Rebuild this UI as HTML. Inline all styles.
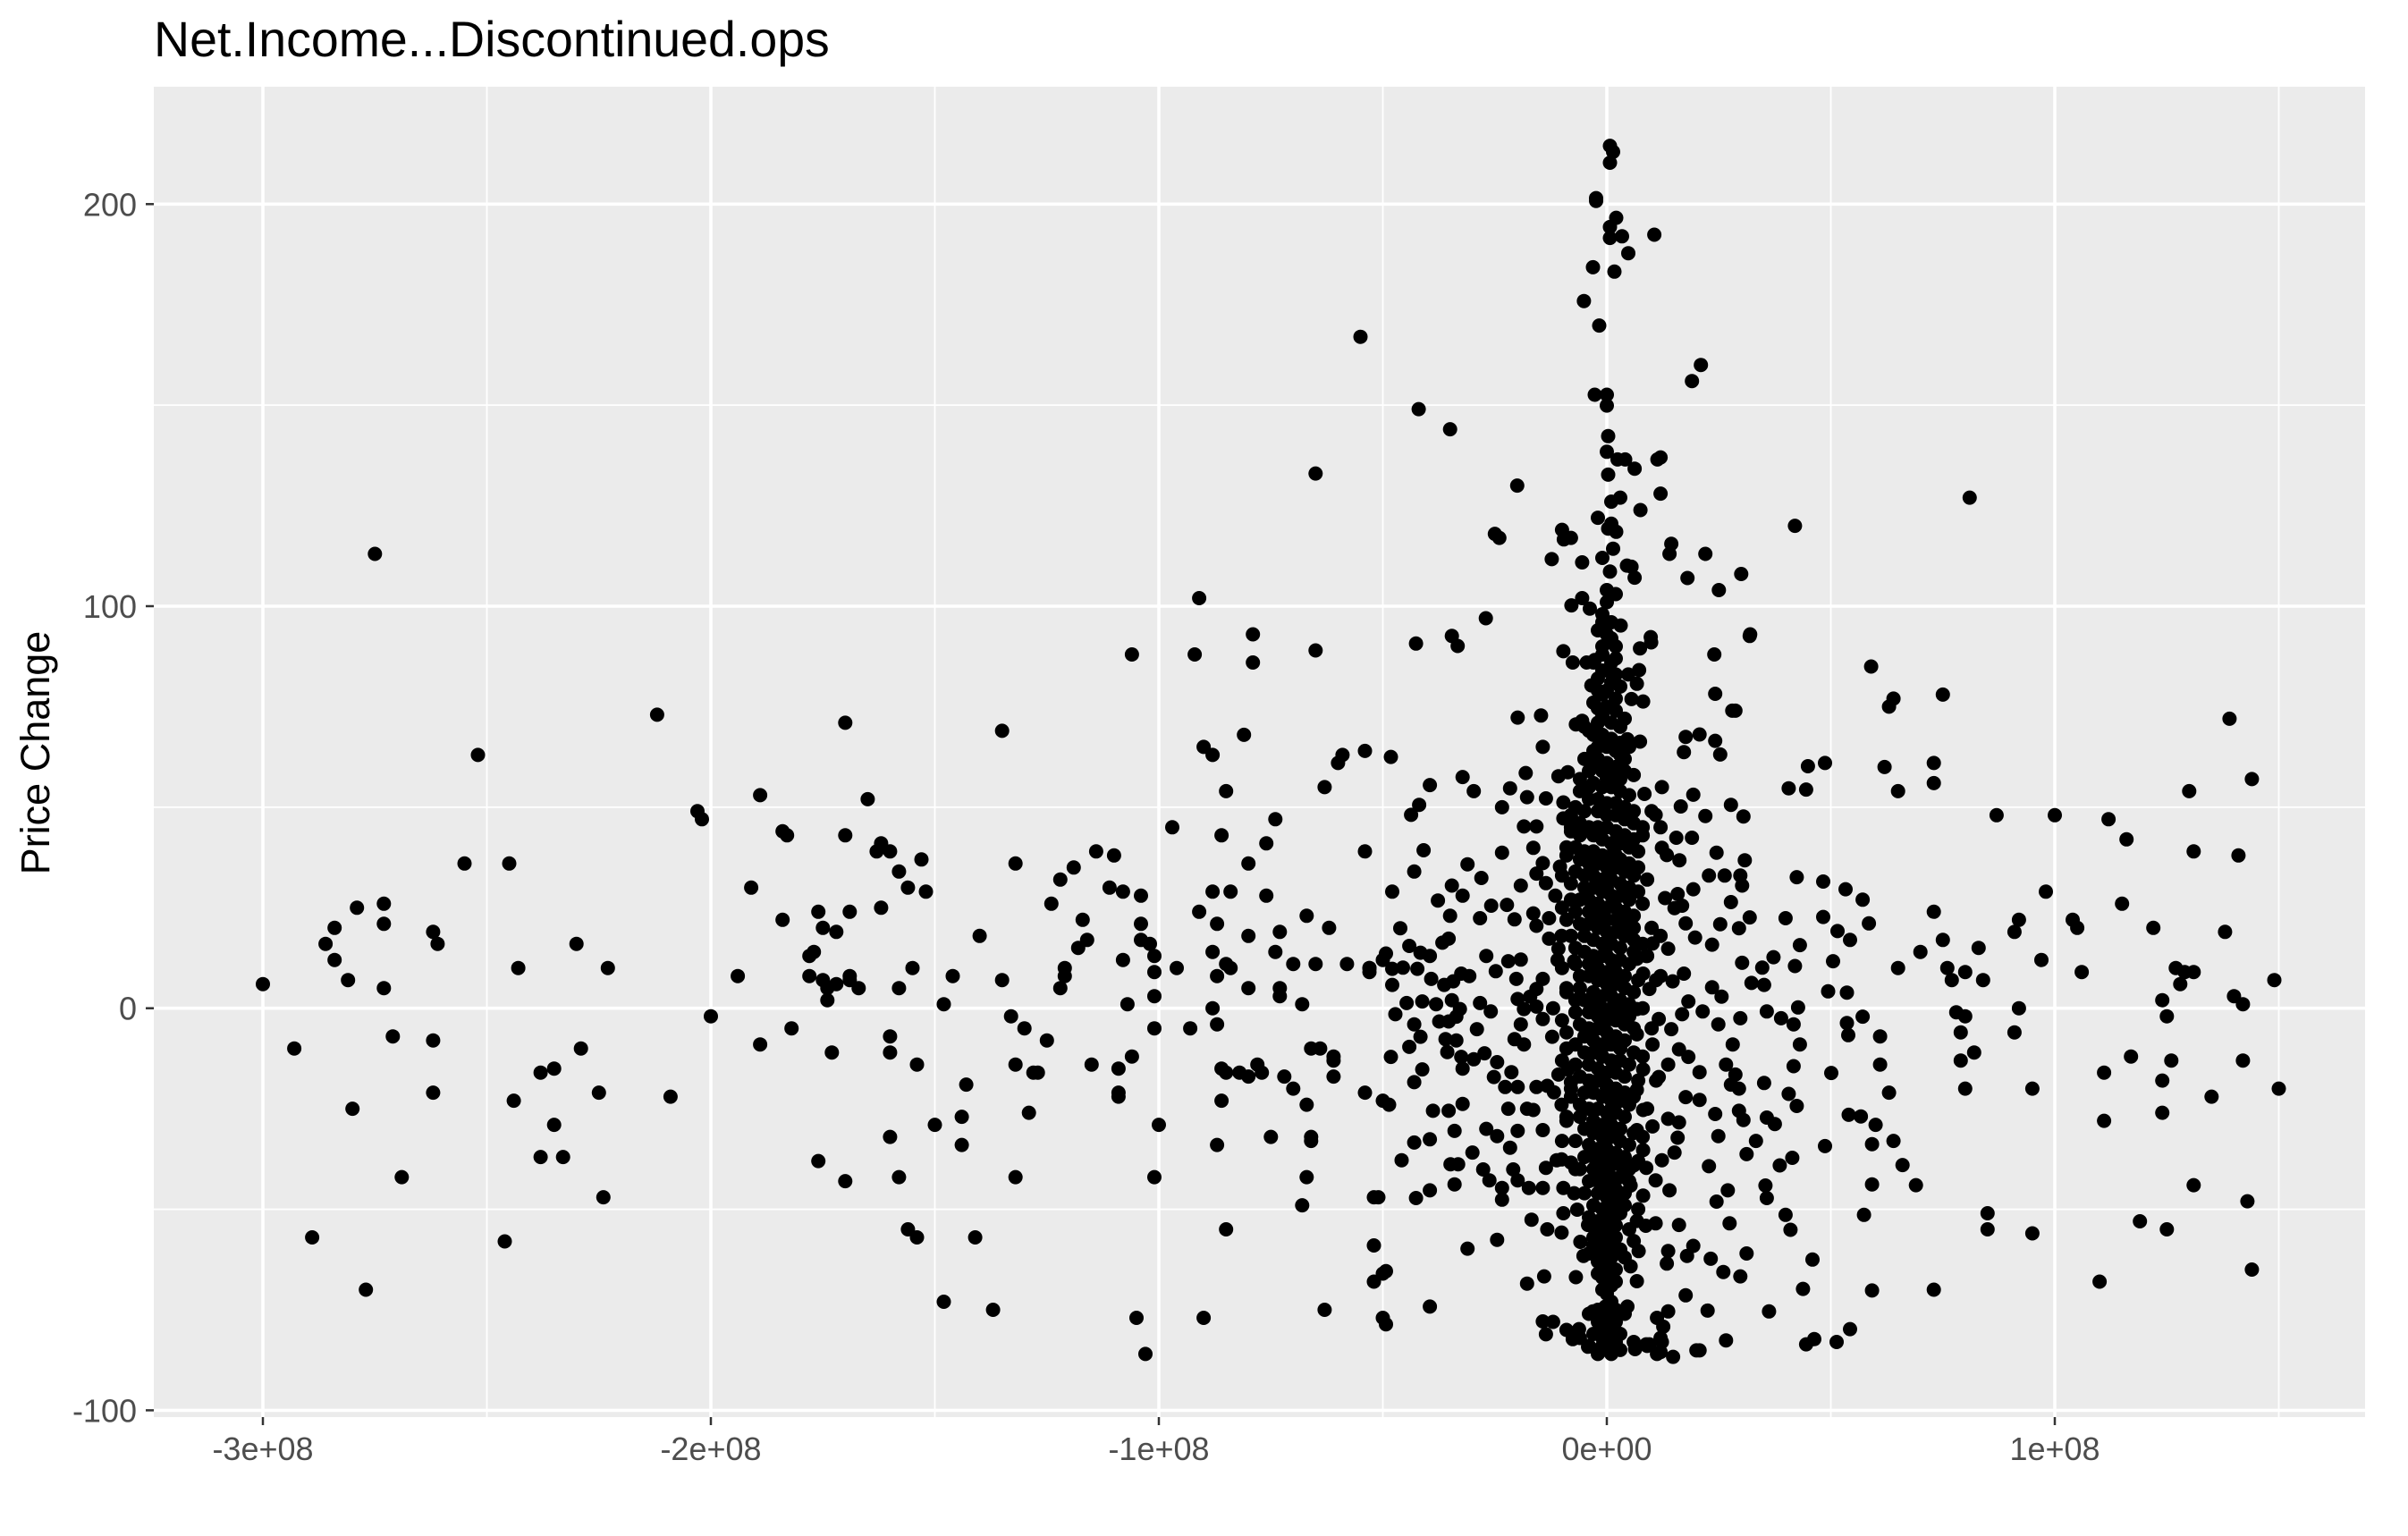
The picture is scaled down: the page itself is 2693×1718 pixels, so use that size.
<!DOCTYPE html>
<html><head><meta charset="utf-8"><style>
html,body{margin:0;padding:0;background:#fff}
svg{display:block}
text{font-family:"Liberation Sans",Arial,sans-serif}
</style></head><body>
<svg id="chart" width="2693" height="1718" viewBox="0 0 2693 1718" xmlns="http://www.w3.org/2000/svg">
<text x="172" y="63" font-size="55.5" fill="#000">Net.Income...Discontinued.ops</text>
<rect x="172" y="97" width="2473" height="1488" fill="#ebebeb"/>
<g id="grid"></g>
<g id="pts"></g>
<g id="axes"></g>
<text transform="translate(55,842) rotate(-90)" text-anchor="middle" font-size="45" fill="#000">Price Change</text>
</svg>
<script>
// x values in millions (1e6), y = price change
const xTicks = [-300, -200, -100, 0, 100];
const xTickLabels = ["-3e+08", "-2e+08", "-1e+08", "0e+00", "1e+08"];
const xMinor = [-250, -150, -50, 50, 150];
const yTicks = [-100, 0, 100, 200];
const yTickLabels = ["-100", "0", "100", "200"];
const yMinor = [-50, 50, 150];

const farLeft = [[-300,6],[-293,-10],[-289,-57],[-286,16],[-284,20],[-284,12],[-281,7],[-280,-25],[-279,25],[-277,-70],[-275,113],[-273,26],[-273,21],[-273,5],[-271,-7],[-269,-42],[-262,-21],[-262,19],[-262,-8],[-261,16],[-255,36],[-252,63],[-246,-58],[-245,36],[-244,-23],[-243,10],[-238,-16],[-238,-37],[-235,-29],[-235,-15],[-233,-37],[-230,16],[-229,-10],[-225,-21],[-224,-47],[-223,10],[-212,73],[-209,-22],[-203,49],[-202,47],[-200,-2],[-194,8],[-191,30],[-189,-9],[-189,53],[-184,44],[-183,43],[-184,22],[-182,-5],[-178,8],[-178,13],[-177,14],[-176,24],[-176,-38],[-175,7],[-175,20],[-174,2],[-174,5],[-173,-11],[-172,19],[-172,6],[-170,43],[-170,71],[-170,-43],[-169,24],[-169,8],[-169,7],[-167,5],[-165,52],[-163,39],[-162,25],[-162,41],[-160,39],[-160,-7],[-160,-11],[-160,-32],[-158,34],[-158,5],[-158,-42],[-156,30],[-156,-55],[-155,10],[-154,-57],[-154,-14],[-153,37],[-152,29],[-150,-29],[-148,-73],[-148,1],[-146,8],[-144,-34],[-144,-27],[-143,-19],[-141,-57],[-140,18],[-137,-75],[-135,7],[-135,69],[-133,-2],[-132,36],[-132,-42],[-132,-14],[-130,-5],[-129,-26],[-128,-16],[-127,-16],[-125,-8],[-124,26],[-122,32],[-122,5],[-121,8],[-121,10],[-119,35],[-118,15],[-117,22],[-116,17],[-115,-14],[-114,39],[-111,30],[-110,38],[-109,-21],[-109,-15],[-109,-22],[-108,12],[-108,29],[-107,1],[-106,-12],[-106,88],[-105,-77],[-104,21],[-104,17],[-104,28],[-103,-86],[-102,16],[-101,-42],[-101,13],[-101,9],[-101,-5],[-101,3],[-100,-29],[-97,45],[-96,10],[-93,-5],[-92,88],[-91,24],[-91,102],[-90,-77],[-90,65],[-88,29],[-88,14],[-88,63],[-88,0],[-87,21],[-87,-4],[-87,-34],[-87,8],[-86,-15],[-86,43],[-86,-23],[-85,54],[-85,11],[-85,-16],[-85,-55],[-84,29],[-84,10],[-82,-16],[-81,68],[-80,5],[-80,36],[-80,-17],[-80,18],[-79,93],[-79,86],[-78,-14],[-77,-16],[-76,41],[-76,28],[-75,-32],[-74,14],[-74,47],[-73,3],[-73,5],[-73,19],[-72,-17],[-70,11],[-70,-20],[-68,1],[-68,-49],[-67,-24],[-67,-42],[-67,23],[-66,-32],[-66,-10],[-66,-33],[-65,89],[-65,11],[-65,133],[-64,-10],[-63,-75],[-63,55],[-62,20],[-61,-12],[-61,-17],[-61,-13],[-60,61],[-59,63],[-58,11],[-55,167],[-54,39],[-54,64],[-54,-21],[-53,10],[-53,9],[-53,10],[-52,-47],[-52,-59],[-52,-68],[-51,-47],[-50,-23],[-50,-77],[-50,-66],[-50,12],[-42,149],[-35,144],[-27,97],[-25,118],[-24,117],[-20,130],[-10,119],[-8,117]];

const farRight = [[59,85],[62,60],[65,54],[64,77],[63,75],[65,10],[70,14],[73,24],[75,17],[76,10],[77,7],[78,-1],[79,-13],[80,9],[81,127],[83,15],[84,7],[85,-51],[85,-55],[75,78],[73,61],[73,56],[79,-6],[80,-20],[80,-2],[82,-11],[73,-70],[69,-44],[66,-39],[64,-33],[63,-21],[60,-29],[61,-7],[61,-14],[87,48],[91,19],[91,-6],[92,0],[92,22],[95,-56],[95,-20],[97,12],[98,29],[100,48],[104,22],[105,20],[106,9],[110,-68],[111,-16],[111,-28],[112,47],[115,26],[116,42],[117,-12],[119,-53],[122,20],[124,-18],[124,-26],[124,2],[125,-55],[125,-2],[126,-13],[127,10],[128,6],[129,9],[131,-44],[131,9],[130,54],[131,39],[135,-22],[138,19],[139,72],[140,3],[141,38],[142,1],[142,-13],[143,-48],[144,57],[144,-65],[149,7],[150,-20],[12,137],[12,128],[19,156],[21,160],[22,113],[30,108],[42,120],[32,93],[28,74],[24,88],[18,107],[14,113],[25,104]];

const spike = [[0.7,214.5],[1.4,213],[0.7,210.3],[-2.4,201.5],[-2.4,200.8],[2.1,196.6],[0.7,194.3],[0.7,191.6],[10.6,192.4],[4.8,187.8],[1.7,183.2],[-5.1,175.9],[-1.7,169.8],[-3.1,184.3],[3.4,192],[0,152.6],[0,149.9],[-2.7,152.6],[0.3,142.3],[0,138.4],[2.4,136.5],[4.1,136.5],[0.3,132.7],[7.5,123.9],[6.2,134.2],[11.3,136.5],[1,120.5],[0.3,119.3],[2.1,118.5],[1.4,114.3],[4.5,110.1],[5.5,109.8],[6.2,107.1],[-5.5,110.9],[0.7,108.6],[0,104],[14.4,115.5],[-5.5,102],[-3.8,99.4],[9.9,91],[3.1,95.2],[-7.9,100.2],[-12.3,111.7],[-9.6,116.6],[-4.5,86],[4.8,83],[7.2,84.1],[5.5,76.9],[-2,74.6],[-5.5,71.5],[-2,122],[3,127],[1,126],[-1,112],[2,103],[-1,96],[1,91]];

const core = [[-1,98],[1,96],[0,101],[-2,94],[1,92],[2,90],[-1,88],[2,87],[-3,86],[0,84],[-2,82],[1,81],[3,80],[-1,78],[-3,76],[0,75],[2,74],[4,72],[-2,71],[-4,69],[-1,68],[1,67],[3,66],[5,65],[-3,64],[-5,62],[-2,62],[0,61],[2,60],[4,59],[6,58],[-6,57],[-3,56],[-1,55],[1,55],[3,54],[5,53],[-4,52],[-7,50],[-5,49],[-2,49],[0,48],[2,48],[4,47],[6,46],[8,45],[-8,44],[-6,43],[-3,43],[-1,42],[1,41],[3,41],[5,40],[7,39],[-9,38],[-6,37],[-4,36],[-2,36],[0,35],[2,35],[4,34],[6,33],[9,32],[-8,31],[-5,30],[-3,30],[-1,29],[1,28],[3,28],[5,27],[8,26],[-10,25],[-7,24],[-4,24],[-2,23],[0,22],[2,22],[4,21],[6,20],[10,20],[-8,18],[-5,18],[-3,17],[-1,16],[1,16],[3,15],[6,14],[9,13],[-11,12],[-7,11],[-4,11],[-2,10],[0,9],[2,9],[4,8],[7,7],[11,7],[-9,5],[-6,5],[-3,4],[-1,3],[1,3],[3,2],[5,1],[8,0],[-12,0],[-7,-1],[-4,-1],[-2,-2],[0,-3],[2,-3],[4,-4],[6,-5],[10,-5],[-9,-6],[-5,-7],[-3,-8],[-1,-9],[1,-9],[3,-10],[6,-11],[8,-12],[-10,-13],[-7,-14],[-4,-14],[-2,-15],[0,-16],[2,-16],[4,-17],[7,-18],[11,-18],[-8,-20],[-5,-21],[-3,-21],[-1,-22],[1,-23],[3,-23],[5,-24],[9,-25],[-9,-27],[-6,-27],[-3,-28],[-1,-29],[1,-29],[3,-30],[6,-31],[8,-32],[-7,-33],[-4,-34],[-2,-35],[0,-35],[2,-36],[4,-37],[7,-38],[-6,-40],[-3,-40],[-1,-41],[1,-42],[3,-42],[5,-43],[-5,-46],[-2,-46],[0,-47],[2,-48],[4,-49],[7,-50],[-4,-52],[-2,-53],[0,-53],[2,-54],[5,-55],[-3,-57],[-1,-58],[1,-59],[3,-60],[-4,-61],[-2,-63],[0,-64],[2,-65],[4,-62],[-1,-67],[1,-69],[0,-71],[-4,-76],[-2,-75],[0,-76],[2,-75],[4,-76],[-1,-79],[1,-80],[0,-82],[-3,-81],[3,-81],[0,-85],[-1,-84],[1,-86],[-6,-82],[6,-83],[9,-84],[-9,-80],[12,-82],[-12,-78],[-8,45],[-9,40],[-10,33],[-8,27],[-9,22],[-10,10],[-9,4],[-10,-3],[-9,-10],[-8,-22],[-9,-28],[-10,-33],[-7,-40],[10,49],[12,45],[8,43],[-8,48],[6.7,12.3],[8.1,8.6],[8.8,13],[9.5,4.8],[6.7,-0.2],[6.7,-6.5],[10.2,-9],[8.1,-15.2],[6.7,-20.3],[8.1,-25.3],[6.7,-30.3],[8.1,-35.3],[6,-39.1],[8.8,-39.7],[5.3,-44.1],[8.1,-46.6],[6.7,-52.9],[6,-57.9],[7.1,-60.4],[5.3,-64.2],[6.7,-67.9],[-5,70],[-3,60],[3,63],[0,57],[-2,45],[2,38],[0,30],[-1,20],[0,13],[1,6],[-1,0],[0,-6],[-1,-12],[0,-19],[1,-25],[-1,-32],[0,-38],[-1,-44],[1,-50],[0,-56],[-1,-61]];

const core2 = [[0,93],[-1,90],[1,86],[-1,84],[2,83],[0,79],[-2,79],[2,77],[-1,73],[1,71],[3,70],[-3,68],[0,65],[2,64],[-2,65],[4,62],[-4,59],[-1,59],[1,58],[3,57],[-6,54],[-4,55],[-2,52],[0,51],[2,51],[4,50],[6,49],[-6,46],[-4,45],[0,45],[2,44],[4,43],[6,42],[-7,40],[-5,39],[-3,39],[-1,38],[1,38],[3,37],[5,36],[7,35],[-7,34],[-5,33],[-3,33],[-1,32],[1,32],[3,31],[5,30],[7,29],[-6,27],[-4,27],[-2,26],[0,25],[2,25],[4,24],[6,23],[-6,21],[-4,21],[-2,20],[0,19],[2,19],[4,18],[6,17],[8,16],[-7,15],[-5,14],[-3,13],[-1,13],[1,12],[3,12],[5,11],[-6,8],[-4,8],[-2,7],[0,6],[2,6],[4,5],[6,4],[-7,2],[-5,2],[-3,1],[-1,-4],[1,0],[3,-1],[5,-2],[-6,-4],[-4,-5],[-2,-5],[0,-9],[2,-7],[4,-8],[-7,-9],[-5,-11],[-3,-11],[-1,-12],[1,-13],[3,-13],[5,-14],[-6,-17],[-4,-18],[-2,-18],[0,-20],[2,-20],[4,-21],[6,-22],[-6,-24],[-4,-25],[-2,-25],[0,-26],[2,-26],[4,-27],[-5,-30],[-3,-31],[-1,-31],[1,-32],[3,-33],[5,-34],[-5,-37],[-3,-37],[-1,-38],[1,-39],[3,-39],[5,-40],[-4,-43],[-2,-43],[0,-44],[2,-45],[4,-46],[-3,-49],[-1,-50],[1,-51],[3,-51],[-2,-55],[0,-55],[2,-57],[-3,-59],[-1,-60],[1,-62],[-2,-66],[0,-67],[2,-68],[-1,-70],[1,-73],[-2,-78],[0,-79],[2,-78],[-1,-82],[2,-83],[-2,-86],[3,-85],[-4,-84]];

const ring = [[-42.6,90.7],[-34.6,92.6],[-33.3,90.1],[-9.7,88.8],[-7.6,86],[-2.7,86.6],[7.4,89.5],[9.8,92.3],[31.9,92.6],[6.7,80.7],[8.1,76.3],[-3.45,80.3],[24.2,78.2],[28.7,74],[-19.9,72.3],[-14.7,72.8],[-6.9,70.6],[-14.3,65],[-48.2,62.5],[4.6,66.9],[7.4,66.3],[17.6,67.5],[20.7,68.1],[24.2,66.5],[17.2,63.7],[25.3,63.1],[44.9,60.2],[48.7,61],[40.6,54.7],[44.5,54.4],[-32.2,57.5],[-29.7,54],[-39.5,55.5],[-18.1,58.5],[-21.6,54.7],[-17.8,52.5],[-10.8,57.7],[-8.7,58.7],[-13.6,52.2],[-9.7,51.2],[-9.7,47.2],[-23.4,50],[-41.9,50.6],[-43.7,48.1],[-18.5,45.2],[-15.7,45.2],[-23.4,38.7],[-40.9,39.3],[-43,34],[-31.1,35.8],[-28,32.4],[-34.6,30.5],[-32.2,28],[-37.7,26.8],[-47.9,29],[-19.2,30.5],[-10.45,35.2],[12.3,55],[8.4,53.3],[10.9,48.1],[16.5,50.2],[19.3,53.1],[27.7,50.6],[30.5,47.7],[22,47.8],[15.5,42.4],[19,42.4],[24.5,38.7],[30.8,36.8],[22.8,33],[26.3,33],[29.8,33],[30.2,30.5],[42.4,32.6],[48.3,31.5],[53.3,29.6],[57.1,27],[19.3,29.6],[15.8,28.4],[27.7,26.4],[31.9,22.6],[25.3,20.9],[29.5,19.9],[17.6,21.1],[19.7,17.6],[23.5,15.8],[39.9,22.4],[48.3,22.7],[51.5,19.2],[54.3,17],[58.5,21.1],[43.1,15.7],[37.2,12.7],[34.7,10.1],[42,10.5],[50.5,11.7],[30.2,11.3],[32.3,6.3],[35.1,5.8],[23.5,5.2],[25.6,2.9],[49.4,4.2],[53.6,3.9],[35.7,-0.8],[38.9,-2.5],[41.7,-4],[42.7,0.2],[57.1,-2.1],[29.8,-2.5],[24.9,-4],[28.1,-9],[21.4,-0.8],[20.7,-15.9],[53.6,-3.7],[53.9,-6.7],[43.1,-9],[41.7,-14.4],[42.4,-24.3],[26.6,-14],[28.7,-16.5],[27.7,-19],[29.5,-20],[35.1,-18.6],[40.6,-21.3],[50.1,-16.1],[24.2,-26.3],[29.5,-25.5],[30.5,-27.8],[35.7,-27.2],[37.5,-28.8],[54,-26.5],[56.7,-26.9],[59.2,-33.8],[24.9,-31.8],[33.3,-33],[31.2,-36.3],[48.7,-34.3],[22.8,-39.3],[38.6,-39.1],[41.4,-37.2],[35.4,-44.1],[35.7,-47.2],[27,-45.3],[24.5,-48.1],[59.2,-43.8],[39.9,-51.4],[41,-55.1],[57.4,-51.4],[27.4,-53.5],[31.2,-61],[29.8,-66.7],[26,-65.6],[23.2,-62.3],[45.9,-62.5],[43.8,-69.8],[59.2,-70.2],[36.2,-75.4],[22.5,-75.2],[26.6,-82.6],[20.7,-85.1],[44.5,-83.6],[46.3,-82.3],[51.3,-83],[54.3,-79.8],[17.6,-71.4],[19.3,-59.1],[17.9,-61.6],[13.7,-60.4],[13.4,-63.5],[16.1,-53.9],[10.9,-53.5],[8.7,-54.1],[13.7,-75.4],[12.6,-79.2],[11.2,-77],[9.5,-83.6],[11.2,-86],[14.8,-86.7],[6.3,-84.8],[20,-85.1],[16.1,-28.4],[13.7,-27.5],[10.2,-29.4],[15.8,-32.2],[15.1,-35.9],[12.3,-37.8],[10.9,-42.8],[14,-45.3],[11.6,-17.1],[13.7,-14],[16.1,-10.2],[18.2,-12.1],[20.7,-22.8],[17.6,-22.1],[14.4,-5.2],[16.8,-1.5],[18.2,1.7],[11.6,-2.7],[14.7,6.7],[17.2,8.6],[12,8],[13.7,14.8],[12,18],[10.2,16.1],[16.8,25.5],[13,27.4],[15.1,24.9],[13.4,38.1],[16.2,36.8],[12.3,39.9],[-46.1,19.9],[-49.3,13.6],[-44.1,15.5],[-41.6,13.8],[-39.5,13],[-36.7,16.3],[-35,23],[-35.3,17.3],[-47.9,9.8],[-45.5,10.1],[-42.3,9.8],[-39.2,7.3],[-36.3,5.8],[-34.3,6.7],[-32.5,8.6],[-30.7,8],[-26.9,13],[-24.8,9.2],[-22,11.7],[-19.2,12.1],[-28.3,22.4],[-25.8,25.5],[-22.3,25.7],[-20.6,22.1],[-16.4,23.6],[-15.7,20.5],[-12.9,22.4],[-12.9,17.3],[-10.1,18],[-7.3,11.7],[-10.8,14.8],[-47.9,5.8],[-44.7,1.3],[-41.2,1.7],[-38.1,1],[-34.6,2],[-32.8,-0.2],[-28.3,1.3],[-25.9,-0.8],[-47.2,-1.5],[-43,-4],[-41.6,-7.1],[-44.1,-9.6],[-48.2,-12.1],[-37.4,-3.3],[-35.3,-3.3],[-33.6,-2.1],[-29,-5.2],[-36,-7.7],[-33.6,-8],[-35.6,-10.9],[-32.5,-12.1],[-29.7,-12.7],[-27.3,-11.2],[-32.2,-15],[-41.2,-15.2],[-43,-18.4],[-24.5,-13.4],[-21.3,-15.9],[-25.2,-17.1],[-22.7,-19.6],[-19.9,-19.6],[-15.7,-19.6],[-13.3,-19.3],[-16.4,-25.3],[-14.3,-30.3],[-48.6,-24],[-38.8,-25.5],[-35.3,-25.5],[-32.2,-23.8],[-22,-25],[-17.8,-25],[-26.9,-30],[-24.5,-31.8],[-19.9,-30.5],[-21.6,-34.7],[-43,-33.4],[-39.5,-32.6],[-34,-30.5],[-45.8,-37.8],[-34.9,-38.8],[-33.2,-38.8],[-30,-35.9],[-27.6,-40.1],[-26.2,-42.8],[-20.9,-40.1],[-19.9,-42.8],[-42.6,-47.2],[-39.5,-45.3],[-34,-43.8],[-23.4,-47.6],[-23.4,-44.7],[-17.4,-44.7],[-14.3,-44.7],[-13.6,-39.7],[-10.1,-37.6],[-8,-38.4],[-9.7,-44.7],[-7.3,-46],[-6.6,-50.1],[-9.7,-51],[-16.8,-52.6],[-13.3,-55],[-10.1,-55.8],[-4.2,-53.9],[-5.9,-58.1],[-5.2,-61.6],[-6.9,-66.9],[-14,-66.7],[-17.8,-68.5],[-31.1,-59.8],[-24.5,-57.6],[-39.5,-74.2],[-49.3,-65.4],[-49.3,-78.6],[-14.3,-77.9],[-13.6,-81.1],[-7.6,-82.3],[-6.2,-79.8],[-4.2,-84.2],[-3.1,-75.4],[-0.3,-74.2],[4.6,-74.2],[1.1,-85.5],[8.8,-83.6],[12,-85.5],[12.3,-83],[-15.7,4.8],[-18.5,-0.2],[-19.2,-4],[-15.7,0.4],[-18.5,-9],[-20.6,-7.7],[-14.3,-2.7],[-12.2,-7.1],[-10.8,-16.5],[-8.7,-15.2],[-8,-18.4],[-11.8,-20.9],[-10.1,-24],[-11.2,-37.8],[-16.4,39.9],[-14.3,36.1],[-15.7,33.5],[-13.6,31.1],[-11.5,28],[-20.2,7.3],[-19.9,2.3],[-17.1,2.9],[-14.3,7.3]];

const NS = "http://www.w3.org/2000/svg";
const PX0 = 172, PX1 = 2645, PY0 = 97, PY1 = 1585;
function xScale(v){ return 1797 + v * 5.01; }
function yScale(v){ return 1127.7 - v * 4.497; }
function mk(tag, attrs, parent){ const e = document.createElementNS(NS, tag); for (const k in attrs) e.setAttribute(k, attrs[k]); parent.appendChild(e); return e; }

const grid = document.getElementById('grid');
xMinor.forEach(v => {
  const l = mk('line', {x1: xScale(v), x2: xScale(v), y1: PY0, y2: PY1, stroke: '#fff', 'stroke-width': 1.8}, grid);
  
  
});
yMinor.forEach(v => {
  const l = mk('line', {x1: PX0, x2: PX1, y1: yScale(v), y2: yScale(v), stroke: '#fff', 'stroke-width': 1.8}, grid);
  
  
});
xTicks.forEach(v => {
  const l = mk('line', {x1: xScale(v), x2: xScale(v), y1: PY0, y2: PY1, stroke: '#fff', 'stroke-width': 3.6}, grid);
  
  
});
yTicks.forEach(v => {
  const l = mk('line', {x1: PX0, x2: PX1, y1: yScale(v), y2: yScale(v), stroke: '#fff', 'stroke-width': 3.6}, grid);
  
  
});

const ptsG = document.getElementById('pts');
[farLeft, farRight, spike, core, core2, ring].forEach(arr => {
  arr.forEach(p => {
    const c = mk('circle', {cx: xScale(p[0]).toFixed(1), cy: yScale(p[1]).toFixed(1), r: 8, fill: '#000'}, ptsG);
    
    
  });
});

const axes = document.getElementById('axes');
xTicks.forEach((v, i) => {
  const t = mk('line', {x1: xScale(v), x2: xScale(v), y1: PY1, y2: PY1 + 9, stroke: '#333', 'stroke-width': 2.5}, axes);
  
  
  const tx = mk('text', {x: xScale(v), y: 1633, 'text-anchor': 'middle', 'font-size': 36, fill: '#4d4d4d'}, axes);
  tx.textContent = xTickLabels[i];
  
  
});
yTicks.forEach((v, i) => {
  const t = mk('line', {x1: PX0 - 9, x2: PX0, y1: yScale(v), y2: yScale(v), stroke: '#333', 'stroke-width': 2.5}, axes);
  
  
  const tx = mk('text', {x: 153, y: yScale(v) + 13, 'text-anchor': 'end', 'font-size': 36, fill: '#4d4d4d'}, axes);
  tx.textContent = yTickLabels[i];
  
  
});
</script>
</body></html>
